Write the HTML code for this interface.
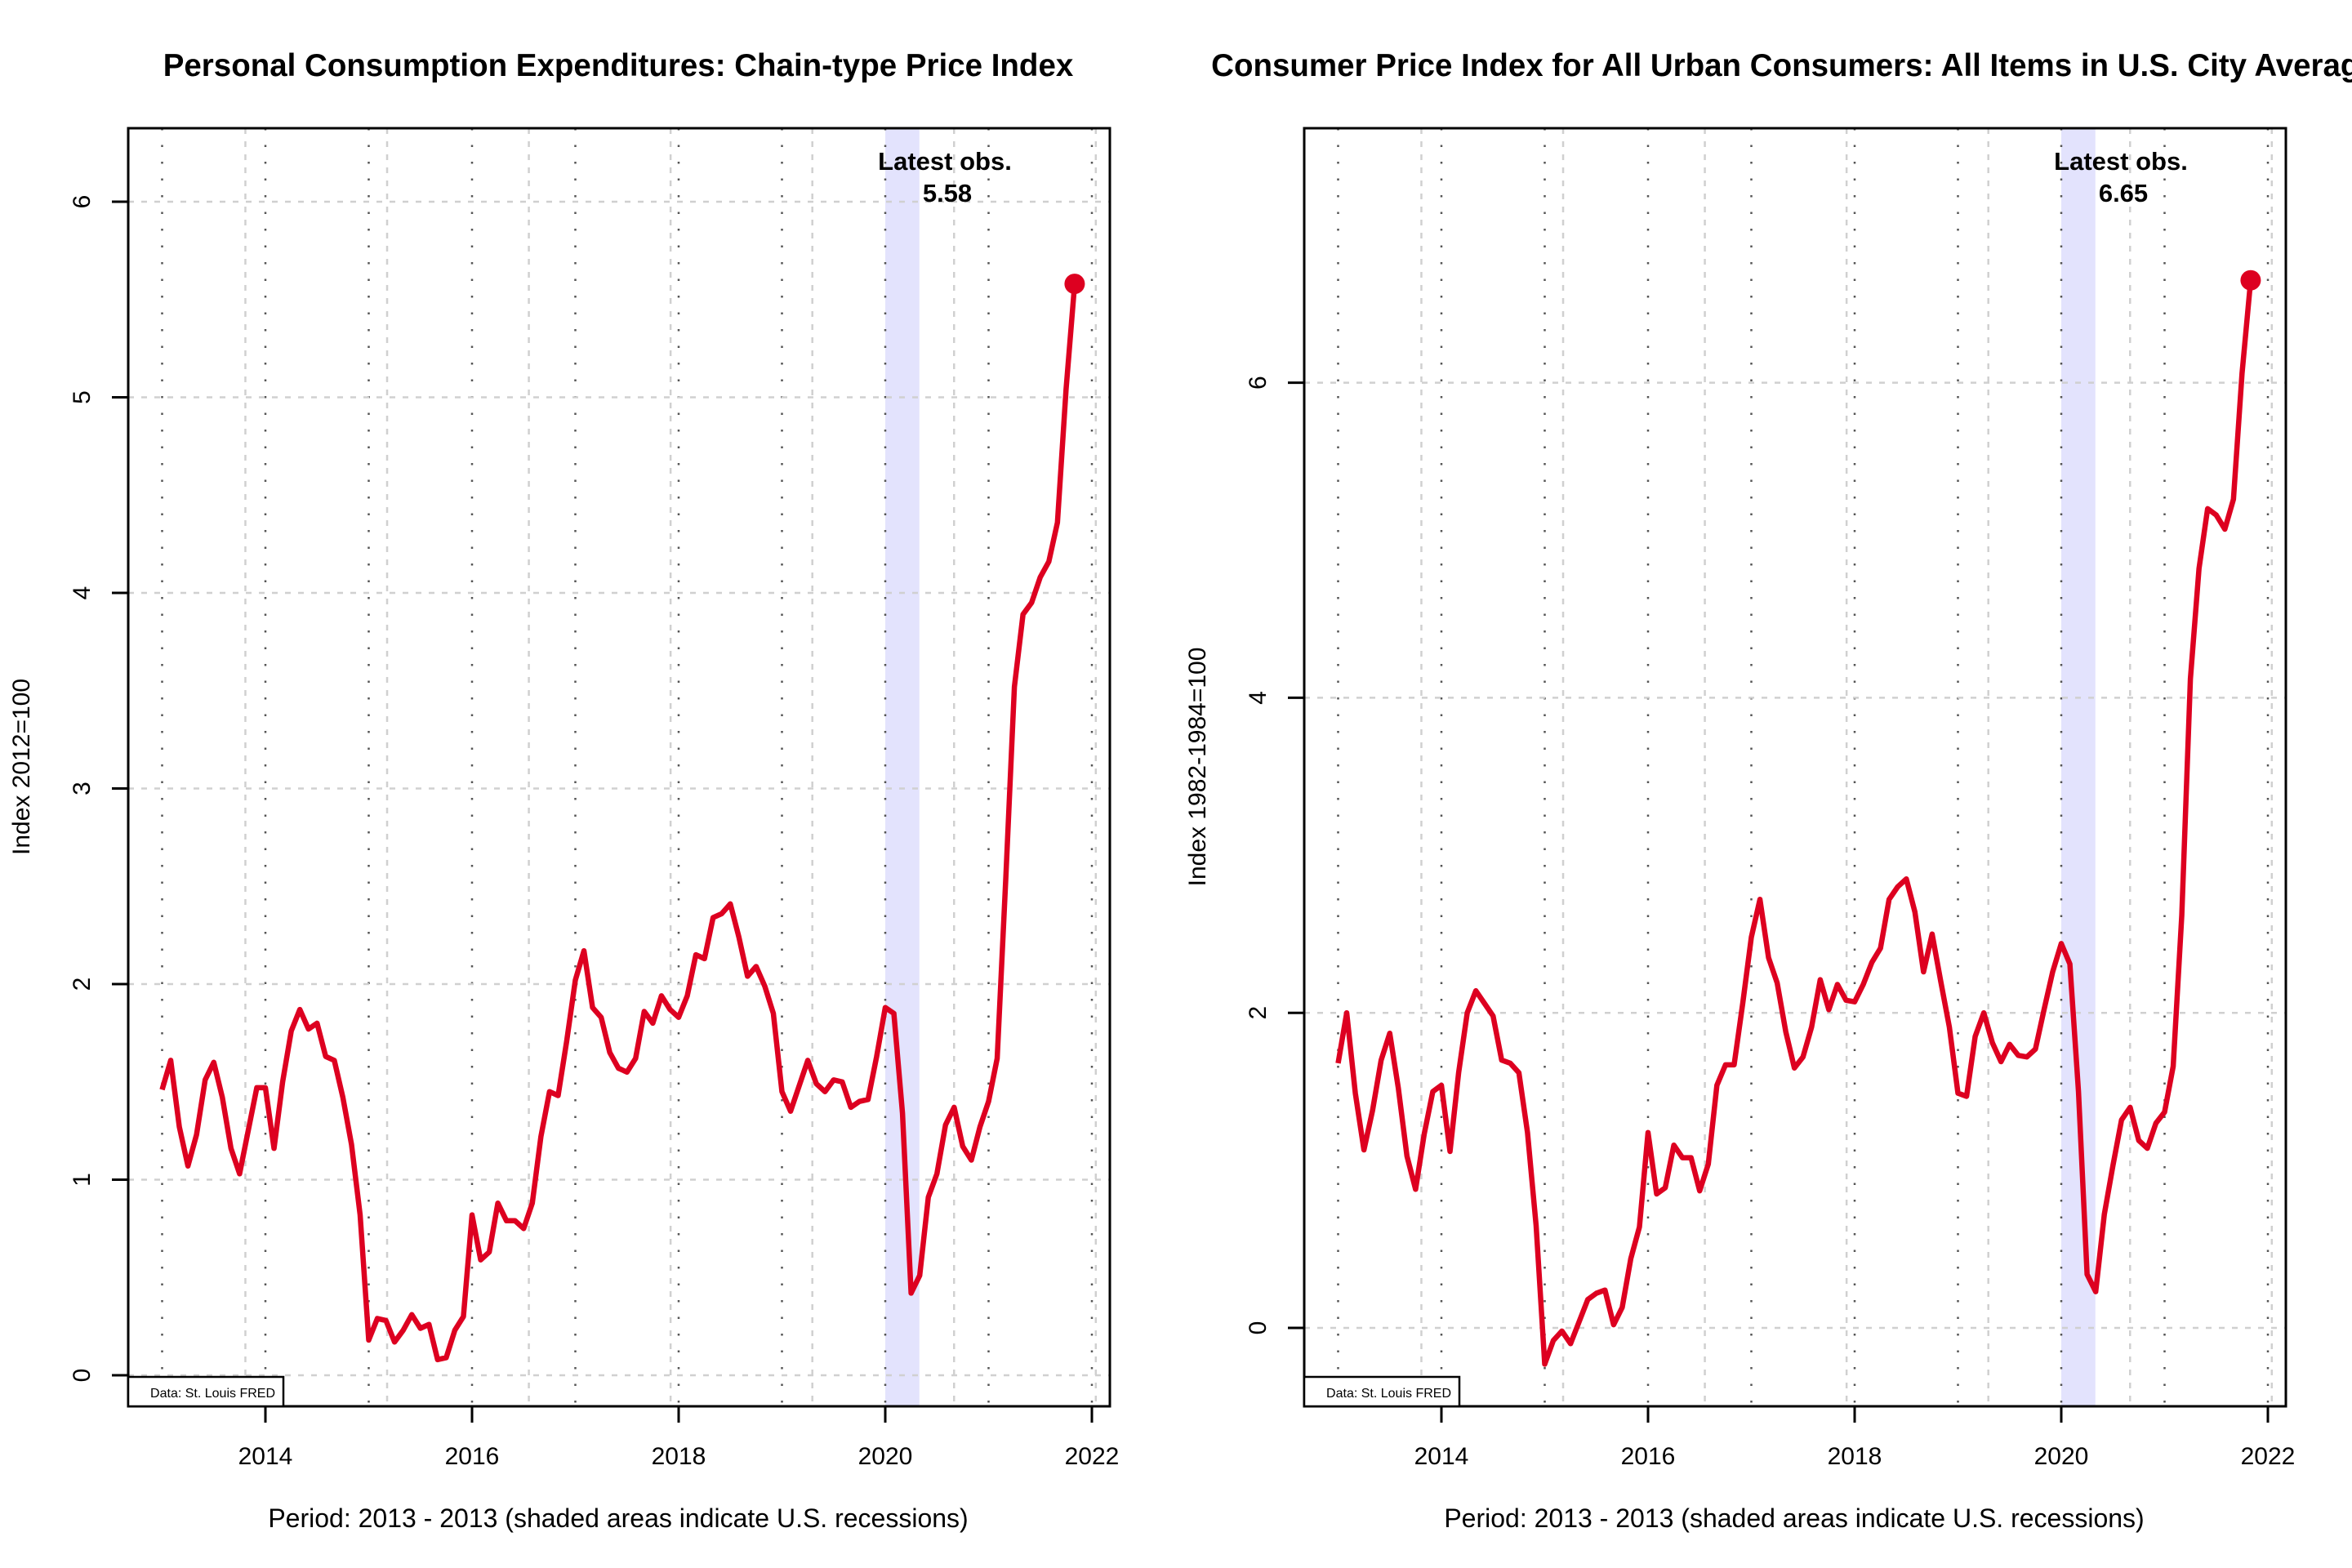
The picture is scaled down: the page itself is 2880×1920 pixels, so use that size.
<!DOCTYPE html>
<html><head><meta charset="utf-8"><style>
html,body{margin:0;padding:0;background:#fff;}
svg{display:block;font-family:"Liberation Sans",Arial,sans-serif;}
</style></head><body>
<svg id="svg" width="2880" height="1920" viewBox="0 0 2880 1920" xmlns="http://www.w3.org/2000/svg"></svg>
<script>
const pceValues=[1.46,1.61,1.27,1.07,1.23,1.51,1.60,1.42,1.16,1.03,1.25,1.47,
1.47,1.16,1.50,1.76,1.87,1.77,1.80,1.63,1.61,1.42,1.18,0.82,
0.18,0.29,0.28,0.17,0.23,0.31,0.24,0.26,0.08,0.09,0.23,0.30,
0.82,0.59,0.63,0.88,0.79,0.79,0.75,0.88,1.22,1.45,1.43,1.71,
2.02,2.17,1.88,1.83,1.65,1.57,1.55,1.62,1.86,1.80,1.94,1.87,
1.83,1.94,2.15,2.13,2.34,2.36,2.41,2.24,2.04,2.09,1.99,1.85,
1.45,1.35,1.48,1.61,1.49,1.45,1.51,1.50,1.37,1.40,1.41,1.63,
1.88,1.85,1.34,0.42,0.51,0.91,1.03,1.28,1.37,1.17,1.10,1.27,
1.40,1.62,2.54,3.52,3.89,3.95,4.08,4.16,4.36,5.04,5.58];
const cpiValues=[1.68,2.00,1.49,1.13,1.38,1.70,1.87,1.52,1.09,0.88,1.23,1.50,
1.54,1.12,1.62,2.00,2.14,2.06,1.98,1.70,1.68,1.62,1.24,0.65,
-0.23,-0.08,-0.02,-0.10,0.04,0.18,0.22,0.24,0.02,0.13,0.44,0.64,
1.24,0.85,0.89,1.16,1.08,1.08,0.87,1.04,1.54,1.67,1.67,2.06,
2.48,2.72,2.35,2.19,1.88,1.65,1.72,1.91,2.21,2.02,2.18,2.08,
2.07,2.18,2.32,2.41,2.72,2.80,2.85,2.64,2.26,2.50,2.20,1.91,
1.49,1.47,1.85,2.00,1.81,1.69,1.80,1.73,1.72,1.77,2.02,2.26,
2.44,2.31,1.50,0.34,0.23,0.72,1.03,1.32,1.40,1.19,1.14,1.30,
1.37,1.66,2.62,4.12,4.82,5.20,5.16,5.07,5.26,6.06,6.65];
const startYear=2013;
const xTickLabels=[2014,2016,2018,2020,2022];
const pceYTicks=[0,1,2,3,4,5,6];
const cpiYTicks=[0,2,4,6];
const recessionStart=2020.0, recessionEnd=2020.33;

const NS="http://www.w3.org/2000/svg";
const svg=document.getElementById('svg');
function mk(tag,attrs,parent){const e=document.createElementNS(NS,tag);for(const k in attrs)e.setAttribute(k,attrs[k]);(parent||svg).appendChild(e);return e;}

function panel(off,title,ylab,values,yTicks,y0px,perUnit,pname){
  const g=mk('g',{});
  
  
  const L=157+off,R=1359+off,T=157,B=1722;
  const X=t=>325+off+(t-2014)*126.5;
  const Y=v=>y0px-v*perUnit;
  const rec=mk('rect',{x:X(recessionStart),y:T,width:X(recessionEnd)-X(recessionStart),height:B-T,fill:'#e3e3fd'},g);
  
  
  for(let k=0;k<7;k++){const x=X(2013.806+k*1.372);if(x>L&&x<R){const l=mk('line',{x1:x,x2:x,y1:T,y2:B,stroke:'#d0d0d0','stroke-width':2.5,'stroke-dasharray':'7 9'},g);
    
    }}
  for(let yr=2013;yr<=2022;yr++){const x=X(yr);const l=mk('line',{x1:x,x2:x,y1:T,y2:B,stroke:'#555','stroke-width':2.5,'stroke-dasharray':'2.5 18'},g);
    
    }
  yTicks.forEach(v=>{const y=Y(v);const l=mk('line',{x1:L,x2:R,y1:y,y2:y,stroke:'#d0d0d0','stroke-width':2.5,'stroke-dasharray':'7 9'},g);
    
    
    const tk=mk('line',{x1:L-20,x2:L,y1:y,y2:y,stroke:'#000','stroke-width':3},g);
    
    
    const t=mk('text',{x:0,y:0,transform:`translate(${L-47},${y}) rotate(-90)`,'text-anchor':'middle','font-size':30},g);t.textContent=v;
    
    });
  xTickLabels.forEach(v=>{const x=X(v);const tk=mk('line',{x1:x,x2:x,y1:B,y2:B+20,stroke:'#000','stroke-width':3},g);
    
    
    const t=mk('text',{x:x,y:1793,'text-anchor':'middle','font-size':30},g);t.textContent=v;
    
    });
  const pts=values.map((v,i)=>[X(startYear+i/12),Y(v)]);
  const line=mk('polyline',{points:pts.map(p=>p.join(',')).join(' '),fill:'none',stroke:'#dd0020','stroke-width':6.5,'stroke-linejoin':'round'},g);
  
  
  const lp=pts[pts.length-1];
  const dot=mk('circle',{cx:lp[0],cy:lp[1],r:12.5,fill:'#dd0020'},g);
  
  
  const box=mk('rect',{x:L,y:T,width:R-L,height:B-T,fill:'none',stroke:'#000','stroke-width':3},g);
  
  
  const db=mk('rect',{x:L,y:1686,width:190,height:B-1686,fill:'#fff',stroke:'#000','stroke-width':2.5},g);
  
  
  const dt=mk('text',{x:L+180,y:1711,'text-anchor':'end','font-size':16},g);dt.textContent='Data: St. Louis FRED';
  
  
  const cx=X(recessionStart)+73;
  const lo=mk('text',{x:cx,y:208,'text-anchor':'middle','font-size':31,'font-weight':'bold'},g);lo.textContent='Latest obs.';
  
  
  const lv=mk('text',{x:cx+3,y:247,'text-anchor':'middle','font-size':31,'font-weight':'bold'},g);lv.textContent=values[values.length-1].toFixed(2);
  
  
  const tt=mk('text',{x:757+off,y:93,'text-anchor':'middle','font-size':38.5,'font-weight':'bold'},g);tt.textContent=title;
  
  
  const xl=mk('text',{x:757+off,y:1870,'text-anchor':'middle','font-size':32},g);xl.textContent='Period: 2013 - 2013 (shaded areas indicate U.S. recessions)';
  
  
  const yl=mk('text',{x:0,y:0,transform:`translate(${36+off},${939}) rotate(-90)`,'text-anchor':'middle','font-size':30},g);yl.textContent=ylab;
  
  
}
panel(0,'Personal Consumption Expenditures: Chain-type Price Index','Index 2012=100',pceValues,pceYTicks,1684,239.5,'pce');
panel(1440,'Consumer Price Index for All Urban Consumers: All Items in U.S. City Average','Index 1982-1984=100',cpiValues,cpiYTicks,1626,192.9,'cpi');
</script>
</body></html>
